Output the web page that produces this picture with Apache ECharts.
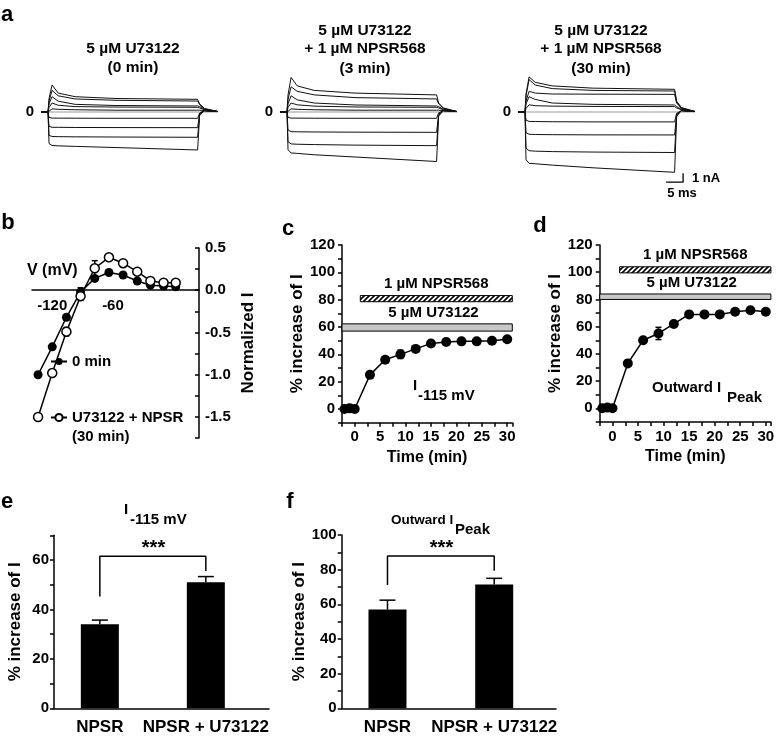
<!DOCTYPE html>
<html><head><meta charset="utf-8">
<script src="https://cdn.jsdelivr.net/npm/echarts@6/dist/echarts.min.js"></script>
<style>html,body{margin:0;padding:0;background:#fff}#chart{width:777px;height:739px}</style>
</head><body><div id="chart"></div>
<script>
const FONT = 'Arial, "Liberation Sans", Helvetica, sans-serif';

// ---------- Panel a: current traces (nA) sampled at traceTimes (ms) ----------
const traceTimes = [-2, 0, 0.3, 1.2, 3, 8, 20, 44, 44.6, 46, 50];
const traces0min = [
  [0, 0, 1.5, 3.0, 2.1, 1.7, 1.5, 1.41, 0.9, 0.4, 0.05],
  [0, 0, 1.2, 2.4, 1.8, 1.45, 1.3, 1.22, 0.8, 0.35, 0.05],
  [0, 0, 0.9, 1.7, 1.2, 0.85, 0.72, 0.67, 0.6, 0.3, 0.05],
  [0, 0, 0.5, 1.0, 0.75, 0.6, 0.55, 0.52, 0.45, 0.25, 0.05],
  [0, 0, 0.2, 0.35, 0.3, 0.25, 0.2, 0.2, 0.2, 0.15, 0.05],
  [0, 0, -0.6, -0.68, -0.68, -0.69, -0.7, -0.7, -0.1, 0.15, 0.05],
  [0, 0, -1.6, -1.7, -1.7, -1.72, -1.73, -1.74, -0.2, 0.15, 0.05],
  [0, 0, -2.6, -2.72, -2.74, -2.76, -2.78, -2.81, -0.3, 0.15, 0.05],
  [0, 0, -3.5, -3.72, -3.76, -3.82, -3.95, -4.22, -0.4, 0.15, 0.05]
];
const traces3min = [
  [0, 0, 1.9, 3.85, 2.9, 2.4, 2.1, 1.9, 1.0, 0.45, 0.05],
  [0, 0, 1.4, 2.8, 2.3, 1.9, 1.6, 1.45, 0.9, 0.4, 0.05],
  [0, 0, 0.9, 1.8, 1.35, 1.0, 0.78, 0.67, 0.6, 0.3, 0.05],
  [0, 0, 0.5, 1.0, 0.8, 0.65, 0.56, 0.52, 0.45, 0.25, 0.05],
  [0, 0, 0.2, 0.35, 0.3, 0.25, 0.2, 0.2, 0.2, 0.15, 0.05],
  [0, 0, -0.6, -0.68, -0.68, -0.69, -0.7, -0.7, -0.1, 0.15, 0.05],
  [0, 0, -2.0, -2.18, -2.2, -2.22, -2.24, -2.26, -0.25, 0.15, 0.05],
  [0, 0, -3.3, -3.55, -3.58, -3.62, -3.68, -3.74, -0.35, 0.15, 0.05],
  [0, 0, -4.2, -4.55, -4.6, -4.75, -5.0, -5.5, -0.45, 0.15, 0.05]
];
const traces30min = [
  [0, 0, 2.0, 3.9, 3.3, 2.9, 2.65, 2.52, 1.2, 0.5, 0.05],
  [0, 0, 1.8, 3.6, 3.0, 2.6, 2.4, 2.33, 1.1, 0.45, 0.05],
  [0, 0, 1.2, 2.3, 2.1, 2.0, 1.98, 1.96, 1.0, 0.4, 0.05],
  [0, 0, 0.9, 1.7, 1.4, 1.0, 0.85, 0.78, 0.6, 0.3, 0.05],
  [0, 0, 0.4, 0.8, 0.7, 0.65, 0.62, 0.6, 0.45, 0.25, 0.05],
  [0, 0, -0.9, -1.05, -1.06, -1.08, -1.1, -1.1, -0.15, 0.15, 0.05],
  [0, 0, -2.3, -2.47, -2.5, -2.52, -2.54, -2.55, -0.25, 0.15, 0.05],
  [0, 0, -4.0, -4.3, -4.35, -4.4, -4.45, -4.5, -0.35, 0.15, 0.05],
  [0, 0, -5.3, -5.7, -5.75, -5.9, -6.2, -6.7, -0.5, 0.15, 0.05]
];
const traceTitles = [
  ['5 µM U73122', '(0 min)'],
  ['5 µM U73122', '+ 1 µM NPSR568', '(3 min)'],
  ['5 µM U73122', '+ 1 µM NPSR568', '(30 min)']
];
const scaleBarMs = 5;
const scaleBarNA = 1;

// ---------- Panel b: I-V relation ----------
const ivVoltage = [-134, -120, -106, -92, -78, -64, -50, -36, -23, -10, 2];
const iv0min = [-1.0, -0.67, -0.32, -0.02, 0.14, 0.21, 0.18, 0.11, 0.06, 0.05, 0.04];
const iv0minErr = [0, 0.02, 0.03, 0.05, 0.03, 0.02, 0.02, 0.02, 0.01, 0.01, 0.01];
const ivDrug = [-1.5, -0.98, -0.49, -0.07, 0.26, 0.39, 0.32, 0.22, 0.11, 0.09, 0.09];
const ivDrugErr = [0, 0.02, 0.05, 0.05, 0.09, 0.03, 0.03, 0.02, 0.02, 0.02, 0.02];
const ivNames = ['0 min', 'U73122 + NPSR'];
const ivNameNote = '(30 min)';

// ---------- Panels c, d: time course ----------
const timeMin = [-2, -1, 0, 3, 6, 9, 12, 15, 18, 21, 24, 27, 30];
const incI115 = [0, 0.5, 0, 25, 36, 40, 44, 48, 49, 49.5, 49.5, 50, 51];
const incI115Err = [0.5, 1, 0.5, 1.5, 2, 3, 1.5, 1, 1, 1, 1, 1, 1];
const incPeak = [0, 0.5, 0, 33, 50, 55, 62, 69, 69, 69, 71, 72, 71];
const incPeakErr = [0.5, 1, 0.5, 1.5, 2, 4.5, 1.5, 1, 1, 1, 2, 2, 1.5];
const drugNames = ['1 µM NPSR568', '5 µM U73122'];
const drugStartC = [1.1, -2.5];
const drugStartD = [1.4, -2.5];
const drugEnd = [31, 31];

// ---------- Panels e, f: summary bars ----------
const barCats = ['NPSR', 'NPSR + U73122'];
const barI115 = [34, 51];
const barI115Err = [1.7, 2.3];
const barPeak = [57, 71.5];
const barPeakErr = [5.4, 3.5];
const sigLabel = '***';

// ================= rendering =================
const chart = echarts.init(document.getElementById('chart'), null, {renderer: 'canvas'});

function makeHatch() {
  const c = document.createElement('canvas'); c.width = 5; c.height = 5;
  const g = c.getContext('2d');
  g.fillStyle = '#fff'; g.fillRect(0, 0, 5, 5);
  g.strokeStyle = '#000'; g.lineWidth = 1.6; g.beginPath();
  g.moveTo(-1, 6); g.lineTo(6, -1);
  g.moveTo(-1, 1); g.lineTo(1, -1);
  g.moveTo(4, 6); g.lineTo(6, 4);
  g.stroke();
  return c;
}
const hatch = makeHatch();

const AX = {color: '#000', width: 1.5};
const lbl = (size) => ({fontSize: size, fontWeight: 'bold', color: '#000', fontFamily: FONT});

const grids = [
  {left: 41.2, top: 67, width: 176.8, height: 121.5},
  {left: 280.2, top: 67, width: 176.8, height: 121.5},
  {left: 518.2, top: 67, width: 176.8, height: 121.5},
  {left: 32, top: 248, width: 167, height: 190.1},
  {left: 342, top: 245, width: 170.3, height: 177.7},
  {left: 599.7, top: 245, width: 171.2, height: 176.9},
  {left: 54, top: 535.3, width: 215, height: 173},
  {left: 341.7, top: 535, width: 214.3, height: 173.3}
].map(g => Object.assign({outerBoundsMode: 'none', containLabel: false}, g));

const xAxes = [], yAxes = [];
for (let g = 0; g < 3; g++) {
  xAxes.push({gridIndex: g, type: 'value', min: -2, max: 50, show: false});
  yAxes.push({gridIndex: g, type: 'value', min: -8.5, max: 5, interval: 8.5,
    axisLine: {show: false}, axisTick: {show: false}, splitLine: {show: false},
    axisLabel: Object.assign({formatter: v => v === 0 ? '0' : '', margin: 7}, lbl(15))});
}
// b : x axis placed at I = 0 (offset from the grid bottom)
const bZeroOffset = -(190.1 * 1.75 / 2.25);
xAxes.push({gridIndex: 3, type: 'value', min: -140, max: 25, interval: 20, position: 'bottom', offset: bZeroOffset,
  axisLine: {onZero: false, lineStyle: AX}, axisTick: {show: false}, splitLine: {show: false},
  axisLabel: Object.assign({formatter: v => (v === -120 || v === -60) ? String(v) : '', margin: 8}, lbl(15))});
yAxes.push({gridIndex: 3, type: 'value', position: 'right', min: -1.75, max: 0.5, interval: 0.25,
  axisLine: {onZero: false, lineStyle: AX}, axisTick: {inside: true, length: 4, lineStyle: AX}, splitLine: {show: false},
  axisLabel: Object.assign({formatter: v => Math.abs(v * 2 - Math.round(v * 2)) < 1e-9 ? v.toFixed(1) : '', margin: 6}, lbl(15)),
  name: 'Normalized I', nameLocation: 'middle', nameRotate: 90, nameGap: 41, nameTextStyle: lbl(17)});
// c, d
[[4, 31], [5, 31]].forEach(([g, mx]) => {
  xAxes.push({gridIndex: g, type: 'value', min: -2.5, max: mx, interval: 2.5,
    axisLine: {onZero: false, lineStyle: AX}, axisTick: {length: 4, lineStyle: AX}, splitLine: {show: false},
    axisLabel: Object.assign({formatter: v => (v >= 0 && v % 5 === 0) ? String(v) : '', margin: 7}, lbl(15)),
    name: 'Time (min)', nameLocation: 'middle', nameGap: 27, nameTextStyle: lbl(16)});
  yAxes.push({gridIndex: g, type: 'value', min: -10, max: 120, interval: 10,
    axisLine: {onZero: false, lineStyle: AX}, axisTick: {length: 4, lineStyle: AX}, splitLine: {show: false},
    axisLabel: Object.assign({formatter: v => (v >= 0 && v % 20 === 0) ? String(v) : '', margin: 7}, lbl(15)),
    name: '% increase of I', nameLocation: 'middle', nameRotate: 90, nameGap: 36, nameTextStyle: lbl(17)});
});
// e, f
[[6, -0.4325, 1.596, 70, 30], [7, -0.429, 1.579, 100, 32]].forEach(([g, mn, mx, ymax, gap]) => {
  xAxes.push({gridIndex: g, type: 'value', min: mn, max: mx,
    axisLine: {onZero: false, lineStyle: AX}, axisTick: {show: false}, axisLabel: {show: false}, splitLine: {show: false}});
  yAxes.push({gridIndex: g, type: 'value', min: 0, max: ymax, interval: 10,
    axisLine: {onZero: false, lineStyle: AX}, axisTick: {length: 4, lineStyle: AX}, splitLine: {show: false},
    axisLabel: Object.assign({formatter: v => (v % 20 === 0) ? String(v) : '', margin: 5}, lbl(15)),
    name: '% increase of I', nameLocation: 'middle', nameRotate: 90, nameGap: gap, nameTextStyle: lbl(17)});
});

const series = [];
// Panel a
[traces0min, traces3min, traces30min].forEach((set, g) => {
  series.push({type: 'line', xAxisIndex: g, yAxisIndex: g, silent: true, symbol: 'none', z: 1,
    data: [[traceTimes[0], 0], [traceTimes[traceTimes.length - 1], 0]],
    lineStyle: {color: '#9a9a9a', width: 1.2}});
  set.forEach(tr => series.push({type: 'line', xAxisIndex: g, yAxisIndex: g, silent: true, symbol: 'none', z: 2,
    data: traceTimes.map((t, i) => [t, tr[i]]), lineStyle: {color: '#111', width: 1}}));
});
const sbX = 46.5, sbY = -7.8;
series.push({type: 'line', xAxisIndex: 2, yAxisIndex: 2, silent: true, symbol: 'none',
  data: [[sbX - scaleBarMs, sbY], [sbX, sbY], [sbX, sbY + scaleBarNA]], lineStyle: {color: '#000', width: 1.3}});

function errRender(capHalf, upOnly) {
  return function (params, api) {
    const x = api.value(0), y = api.value(1), e = api.value(2);
    if (!e) return null;
    const top = api.coord([x, y + e]);
    const bot = api.coord([x, upOnly ? y : y - e]);
    const ch = [{type: 'line', shape: {x1: top[0], y1: top[1], x2: bot[0], y2: bot[1]}, style: {stroke: '#000', lineWidth: 1.5}},
      {type: 'line', shape: {x1: top[0] - capHalf, y1: top[1], x2: top[0] + capHalf, y2: top[1]}, style: {stroke: '#000', lineWidth: 1.5}}];
    if (!upOnly) ch.push({type: 'line', shape: {x1: bot[0] - capHalf, y1: bot[1], x2: bot[0] + capHalf, y2: bot[1]}, style: {stroke: '#000', lineWidth: 1.5}});
    return {type: 'group', children: ch};
  };
}

// Panel b
series.push({type: 'custom', xAxisIndex: 3, yAxisIndex: 3, silent: true, z: 1, renderItem: errRender(3, false),
  encode: {x: 0, y: 1}, data: ivVoltage.map((v, i) => [v, iv0min[i], iv0minErr[i]])});
series.push({type: 'custom', xAxisIndex: 3, yAxisIndex: 3, silent: true, z: 1, renderItem: errRender(3, false),
  encode: {x: 0, y: 1}, data: ivVoltage.map((v, i) => [v, ivDrug[i], ivDrugErr[i]])});
series.push({type: 'line', name: ivNames[0], xAxisIndex: 3, yAxisIndex: 3, z: 3,
  data: ivVoltage.map((v, i) => [v, iv0min[i]]), symbol: 'circle', symbolSize: 9,
  itemStyle: {color: '#000'}, lineStyle: {color: '#000', width: 1.5}});
series.push({type: 'line', name: ivNames[1], xAxisIndex: 3, yAxisIndex: 3, z: 4,
  data: ivVoltage.map((v, i) => [v, ivDrug[i]]), symbol: 'circle', symbolSize: 9,
  itemStyle: {color: '#fff', borderColor: '#000', borderWidth: 1.5}, lineStyle: {color: '#000', width: 1.5}});

// Panels c, d
function drugRender(levels) {
  return function (params, api) {
    const s = api.value(0), e = api.value(1), i = api.value(2);
    const lv = levels[i];
    const p0 = api.coord([s, lv[1]]), p1 = api.coord([e, lv[0]]);
    const mid = api.coord([(Math.max(s, 0) + e) / 2, lv[1]]);
    return {type: 'group', children: [
      {type: 'rect', shape: {x: p0[0], y: p0[1], width: p1[0] - p0[0], height: p1[1] - p0[1]},
        style: {fill: i === 0 ? {image: hatch, repeat: 'repeat'} : '#c8c8c8', stroke: '#000', lineWidth: 1}},
      {type: 'text', x: mid[0], y: p0[1] - 4,
        style: {text: drugNames[i], font: 'bold 15px ' + FONT, fill: '#000', textAlign: 'center', textVerticalAlign: 'bottom'}}
    ]};
  };
}
[[4, incI115, incI115Err, drugStartC, [[78.5, 83], [57, 62.3]]],
 [5, incPeak, incPeakErr, drugStartD, [[99.5, 104], [80, 84]]]].forEach(([g, vals, errs, starts, levels]) => {
  series.push({type: 'custom', xAxisIndex: g, yAxisIndex: g, silent: true, z: 1, renderItem: drugRender(levels),
    encode: {x: [0, 1], y: 2}, data: drugNames.map((n, i) => [starts[i], drugEnd[i], i])});
  series.push({type: 'custom', xAxisIndex: g, yAxisIndex: g, silent: true, z: 2, renderItem: errRender(3, false),
    encode: {x: 0, y: 1}, data: timeMin.map((t, i) => [t, vals[i], errs[i]])});
  series.push({type: 'line', xAxisIndex: g, yAxisIndex: g, z: 3, symbol: 'circle', symbolSize: 10,
    data: timeMin.map((t, i) => [t, vals[i]]), itemStyle: {color: '#000'}, lineStyle: {color: '#000', width: 1.5}});
});

// Panels e, f
[[6, barI115, barI115Err, [[0, 45.2], [0, 61.5], [1, 61.5], [1, 55.6]]],
 [7, barPeak, barPeakErr, [[0, 71.1], [0, 87.9], [1, 87.9], [1, 79.4]]]].forEach(([g, vals, errs, bracket]) => {
  series.push({type: 'bar', xAxisIndex: g, yAxisIndex: g, barWidth: 38, z: 2,
    data: vals.map((v, i) => [i, v]), itemStyle: {color: '#000'},
    label: Object.assign({show: true, position: 'bottom', distance: 11, formatter: p => barCats[p.dataIndex]}, lbl(17))});
  series.push({type: 'custom', xAxisIndex: g, yAxisIndex: g, silent: true, z: 1, renderItem: errRender(8, true),
    encode: {x: 0, y: 1}, data: vals.map((v, i) => [i, v, errs[i]])});
  series.push({type: 'line', xAxisIndex: g, yAxisIndex: g, silent: true, symbol: 'none', z: 3,
    data: bracket, lineStyle: {color: '#000', width: 1.5}});
});

function txt(text, x, y, size, align, vAlign) {
  return {type: 'text', x: x, y: y, silent: true,
    style: {text: text, fill: '#000', font: 'bold ' + size + 'px ' + FONT, textAlign: align || 'center', textVerticalAlign: vAlign || 'middle'}};
}
const graphics = [
  txt('a', 7, 15, 22), txt('b', 8, 223, 22), txt('c', 288, 229, 22), txt('d', 540, 226, 22),
  txt('e', 7, 502, 22), txt('f', 290, 502, 22),
  txt(scaleBarNA + ' nA', 692, 178, 13, 'left'), txt(scaleBarMs + ' ms', 682, 193, 13),
  txt('V (mV)', 27, 271, 16, 'left'),
  txt(ivNameNote, 72, 437, 15, 'left'),
  txt('I', 413, 386, 15, 'left'), txt('-115 mV', 418, 396, 15, 'left'),
  txt('Outward I', 652, 388, 15, 'left'), txt('Peak', 727, 398, 15, 'left'),
  txt('I', 124, 510, 15, 'left'), txt('-115 mV', 130, 520, 15, 'left'),
  txt('Outward I', 391, 520, 13.5, 'left'), txt('Peak', 455, 530, 15, 'left'),
  txt(sigLabel, 153.5, 548, 20), txt(sigLabel, 441.5, 548, 20)
];
const titleX = [133, 365, 601];
traceTitles.forEach((lines, k) => {
  const ys = lines.length === 2 ? [49, 68] : [31, 49, 69];
  lines.forEach((s, j) => graphics.push(txt(s, titleX[k], ys[j], 15.5)));
});

chart.setOption({
  backgroundColor: '#fff',
  animation: false,
  textStyle: {fontFamily: FONT},
  grid: grids, xAxis: xAxes, yAxis: yAxes, series: series,
  legend: [
    {data: [ivNames[0]], left: 50, top: 354, padding: 0, orient: 'vertical', itemWidth: 16, itemHeight: 9, itemGap: 4,
      textStyle: lbl(15), selectedMode: false},
    {data: [ivNames[1]], left: 50, top: 410, padding: 0, orient: 'vertical', itemWidth: 16, itemHeight: 9, itemGap: 4,
      textStyle: lbl(15), selectedMode: false}
  ],
  graphic: graphics
});
</script></body></html>
